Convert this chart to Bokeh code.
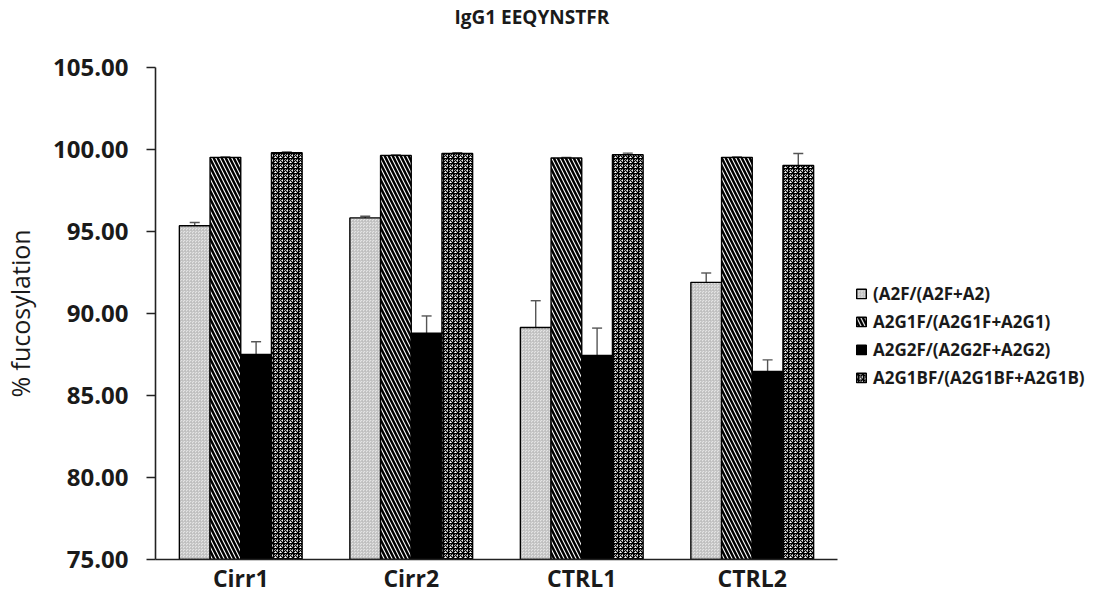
from bokeh.plotting import figure
from bokeh.models import (ColumnDataSource, FactorRange, Range1d, Legend, LegendItem, Title,
                          Whisker, TeeHead, NumeralTickFormatter, SingleIntervalTicker)
from bokeh.transform import dodge
from bokeh.embed import file_html
from bokeh.resources import INLINE

# ---- data ----
categories = ["Cirr1", "Cirr2", "CTRL1", "CTRL2"]
series_names = ["(A2F/(A2F+A2)", "A2G1F/(A2G1F+A2G1)", "A2G2F/(A2G2F+A2G2)", "A2G1BF/(A2G1BF+A2G1B)"]
a2f = [95.35, 95.83, 89.15, 91.90]
a2f_err = [0.20, 0.10, 1.63, 0.57]
a2g1f = [99.52, 99.64, 99.48, 99.52]
a2g1f_err = [0.03, 0.03, 0.03, 0.03]
a2g2f = [87.50, 88.80, 87.44, 86.47]
a2g2f_err = [0.78, 1.05, 1.67, 0.70]
a2g1bf = [99.80, 99.76, 99.68, 99.02]
a2g1bf_err = [0.05, 0.05, 0.10, 0.74]
chart_title = "IgG1 EEQYNSTFR"
y_ticks_interval = 5
y_min, y_max = 75, 105

values = [a2f, a2g1f, a2g2f, a2g1bf]
errors = [a2f_err, a2g1f_err, a2g2f_err, a2g1bf_err]

data = dict(cat=categories)
for i, (v, e) in enumerate(zip(values, errors)):
    data[f"v{i}"] = v
    data[f"up{i}"] = [a + b for a, b in zip(v, e)]
    data[f"lo{i}"] = [a - b for a, b in zip(v, e)]
src = ColumnDataSource(data)

FONT = "Open Sans"

p = figure(x_range=FactorRange(*categories, range_padding=0),
           y_range=Range1d(y_min, y_max),
           frame_width=682, frame_height=492,
           min_border_left=140, min_border_top=0, min_border_bottom=0, min_border_right=0,
           output_backend="svg", toolbar_location=None)
p.title = None

# spacer (closest to frame) then the real title above it
spacer = Title(text=" ", text_font_size="2px", standoff=33)
p.add_layout(spacer, "above")
title = Title(text=chart_title, text_font=FONT, text_font_size="19px", text_font_style="bold",
              text_color="#1a1a1a", align="left", offset=299, standoff=2)
p.add_layout(title, "above")

p.outline_line_color = None
p.xgrid.grid_line_color = None
p.ygrid.grid_line_color = None

styles = [
    dict(fill_color="#e4e4e4", hatch_pattern="criss_cross", hatch_color="#bdbdbd",
         hatch_scale=3, hatch_weight=0.7),
    dict(fill_color="white", hatch_pattern="left_diagonal_line", hatch_color="black",
         hatch_scale=8, hatch_weight=2.5),
    dict(fill_color="black"),
    dict(fill_color="white", hatch_pattern="criss_cross", hatch_color="black",
         hatch_scale=5, hatch_weight=1.2),
]
offsets = [-0.27, -0.09, 0.09, 0.27]
bar_w = 0.18

items = []
for i in range(4):
    r = p.vbar(x=dodge("cat", offsets[i], range=p.x_range), top=f"v{i}", bottom=y_min,
               width=bar_w, source=src, line_color="black", line_width=1.4, **styles[i])
    items.append(LegendItem(label=series_names[i], renderers=[r]))

for i in range(4):
    w = Whisker(base=dodge("cat", offsets[i], range=p.x_range), upper=f"up{i}", lower=f"lo{i}",
                source=src, line_color="#555555", line_width=1.4,
                upper_head=TeeHead(size=10, line_color="#555555", line_width=1.4),
                lower_head=TeeHead(size=10, line_color="#555555", line_width=1.4))
    p.add_layout(w)

# axes
p.yaxis.ticker = SingleIntervalTicker(interval=y_ticks_interval)
p.yaxis.formatter = NumeralTickFormatter(format="0.00")
p.yaxis.axis_label = "% fucosylation"
p.yaxis.axis_label_text_font = FONT
p.yaxis.axis_label_text_font_size = "25px"
p.yaxis.axis_label_text_font_style = "normal"
p.yaxis.axis_label_text_color = "#1a1a1a"
p.yaxis.axis_label_standoff = 13
p.yaxis.major_label_text_font = FONT
p.yaxis.major_label_text_font_size = "24px"
p.yaxis.major_label_text_font_style = "bold"
p.yaxis.major_label_text_color = "#1a1a1a"
p.yaxis.major_label_standoff = 18
p.yaxis.major_tick_out = 9
p.yaxis.major_tick_in = 0
p.yaxis.minor_tick_out = 0
p.yaxis.minor_tick_in = 0
p.yaxis.axis_line_width = 1.6
p.yaxis.axis_line_color = "#222222"
p.yaxis.major_tick_line_width = 1.6
p.yaxis.major_tick_line_color = "#222222"

p.xaxis.major_label_text_font = FONT
p.xaxis.major_label_text_font_size = "23px"
p.xaxis.major_label_text_font_style = "bold"
p.xaxis.major_label_text_color = "#1a1a1a"
p.xaxis.major_label_standoff = 2
p.xaxis.major_tick_out = 0
p.xaxis.major_tick_in = 0
p.xaxis.axis_line_width = 1.6
p.xaxis.axis_line_color = "#222222"

legend = Legend(items=items, location="center_left")
legend.title = " "
legend.title_text_font_size = "30px"
legend.title_standoff = 10
legend.label_text_font = FONT
legend.label_text_font_size = "17px"
legend.label_text_font_style = "bold"
legend.label_text_color = "#1a1a1a"
legend.glyph_width = 12
legend.glyph_height = 12
legend.label_height = 20
legend.label_standoff = 6
legend.spacing = 5
legend.padding = 0
legend.margin = 18
legend.border_line_color = None
legend.background_fill_alpha = 0
p.add_layout(legend, "right")

open("out.html", "w").write(file_html(p, INLINE))
